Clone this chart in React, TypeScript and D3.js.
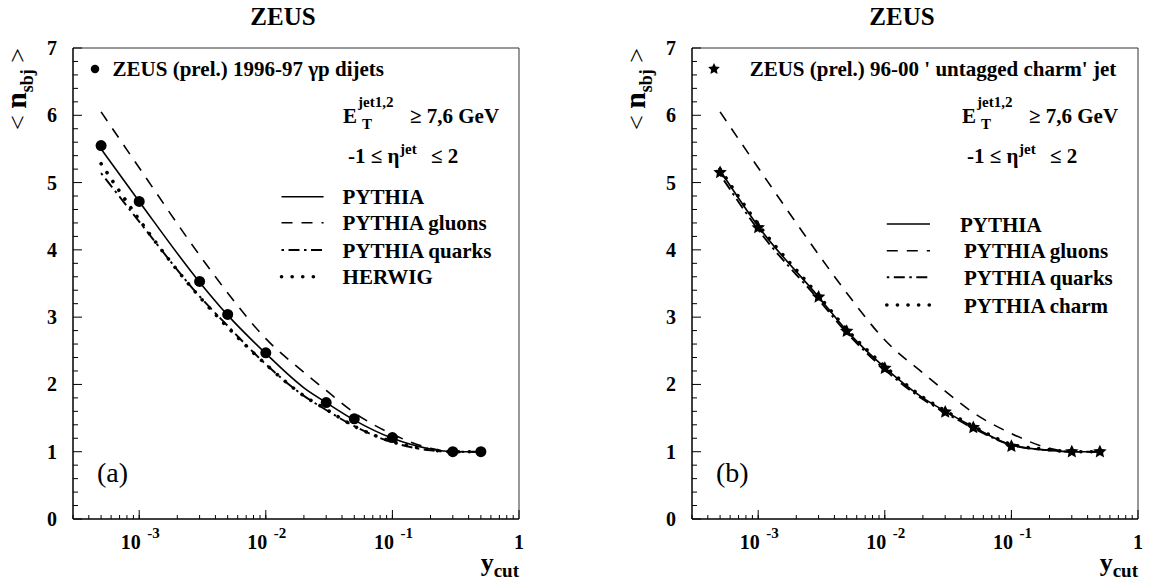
import React, { useEffect, useRef } from 'react'
import * as d3 from 'd3'

// measured points
const ycutData = [5e-4, 1e-3, 3e-3, 5e-3, 1e-2, 3e-2, 5e-2, 0.1, 0.3, 0.5]
const dijetsData = [5.55, 4.72, 3.53, 3.04, 2.47, 1.73, 1.49, 1.21, 1.0, 1.0]
const charmJetData = [5.15, 4.33, 3.30, 2.79, 2.24, 1.59, 1.36, 1.08, 1.0, 1.0]

// model curves
const ycutModel = [5e-4, 1e-3, 3e-3, 5e-3, 1e-2, 2e-2, 3e-2, 5e-2, 0.1, 0.2, 0.3, 0.5]
const pythiaA = [5.5, 4.72, 3.52, 3.03, 2.46, 1.95, 1.73, 1.47, 1.2, 1.04, 1.0, 1.0]
const gluonsA = [6.05, 5.22, 3.92, 3.36, 2.68, 2.18, 1.91, 1.58, 1.26, 1.05, 1.0, 1.0]
const quarksA = [5.14, 4.42, 3.31, 2.87, 2.30, 1.83, 1.62, 1.38, 1.14, 1.02, 1.0, 1.0]
const herwigA = [5.28, 4.45, 3.30, 2.85, 2.30, 1.83, 1.63, 1.38, 1.15, 1.03, 1.0, 1.0]

const pythiaB = [5.18, 4.35, 3.30, 2.80, 2.25, 1.80, 1.60, 1.37, 1.10, 1.02, 1.0, 1.0]
const gluonsB = [6.05, 5.22, 3.93, 3.36, 2.66, 2.17, 1.90, 1.58, 1.27, 1.05, 1.0, 1.0]
const quarksB = [5.12, 4.30, 3.26, 2.77, 2.22, 1.78, 1.58, 1.35, 1.10, 1.02, 1.0, 1.0]
const charmB = [5.20, 4.38, 3.32, 2.82, 2.27, 1.81, 1.61, 1.38, 1.11, 1.03, 1.0, 1.0]

const yTicks = [0, 1, 2, 3, 4, 5, 6, 7]
const xDecades = [1e-3, 1e-2, 1e-1, 1]
const xExponents = ['-3', '-2', '-1', '']

const legendA = ['PYTHIA', 'PYTHIA gluons', 'PYTHIA quarks', 'HERWIG']
const legendB = ['PYTHIA', 'PYTHIA gluons', 'PYTHIA quarks', 'PYTHIA charm']

const FONT = '"Liberation Serif", "Times New Roman", serif'

const styles: any = {
    solid: { dash: null, width: 1.6, cap: 'butt' },
    dashed: { dash: '11,9', width: 1.6, cap: 'butt' },
    dashdot: { dash: '2.5,4.5,11,4.5', width: 1.9, cap: 'butt' },
    dotted: { dash: '0.1,10.5', width: 3.6, cap: 'round' },
}

// fat five-point star like the ROOT marker
const fatStar = {
    draw(context: any, size: number) {
        const r = Math.sqrt(size / 1.6)
        const ri = r * 0.48
        for (let i = 0; i < 10; i++) {
            const a = -Math.PI / 2 + (i * Math.PI) / 5
            const rr = i % 2 === 0 ? r : ri
            const px = rr * Math.cos(a)
            const py = rr * Math.sin(a)
            if (i === 0) context.moveTo(px, py)
            else context.lineTo(px, py)
        }
        context.closePath()
    },
}

const W = 446
const TOP = 48
const BOTTOM = 519

function drawPanel(root: any, p: any) {
    const g = root.append('g').attr('transform', `translate(${p.ox},0)`)

    const x = d3.scaleLog().domain([3e-4, 1]).range([0, W])
    const y = d3.scaleLinear().domain([0, 7]).range([BOTTOM, TOP])

    // frame
    g.append('line').attr('x1', 0).attr('x2', W).attr('y1', TOP).attr('y2', TOP)
        .attr('stroke', '#333').attr('stroke-width', 1)
    g.append('line').attr('x1', W).attr('x2', W).attr('y1', TOP).attr('y2', BOTTOM)
        .attr('stroke', '#333').attr('stroke-width', 1)
    g.append('line').attr('x1', 0).attr('x2', 0).attr('y1', TOP).attr('y2', BOTTOM)
        .attr('stroke', '#000').attr('stroke-width', 1.5)
    g.append('line').attr('x1', 0).attr('x2', W).attr('y1', BOTTOM).attr('y2', BOTTOM)
        .attr('stroke', '#000').attr('stroke-width', 1.5)

    // y ticks
    const yMinor = d3.range(0, 7.001, 0.2)
    g.selectAll('.ymin').data(yMinor).enter().append('line')
        .attr('x1', 0).attr('x2', d => (Math.abs(d - Math.round(d)) < 1e-6 ? 9 : 5))
        .attr('y1', d => y(d)).attr('y2', d => y(d))
        .attr('stroke', '#000').attr('stroke-width', 1)
    g.selectAll('.ylab').data(yTicks).enter().append('text')
        .attr('x', -16).attr('y', d => y(d) + 7)
        .attr('text-anchor', 'end').attr('font-family', FONT).attr('font-weight', 'bold')
        .attr('font-size', 20).text(d => d)

    // x ticks
    const xMinor: number[] = []
    ;[1e-4, 1e-3, 1e-2, 1e-1].forEach(dec => {
        for (let k = 1; k <= 9; k++) {
            const v = dec * k
            if (v >= 3e-4 && v <= 1) xMinor.push(v)
        }
    })
    g.selectAll('.xmin').data(xMinor).enter().append('line')
        .attr('x1', d => x(d)).attr('x2', d => x(d))
        .attr('y1', BOTTOM).attr('y2', BOTTOM - 4)
        .attr('stroke', '#000').attr('stroke-width', 1)
    g.selectAll('.xmaj').data(xDecades).enter().append('line')
        .attr('x1', d => x(d)).attr('x2', d => x(d))
        .attr('y1', BOTTOM).attr('y2', BOTTOM - 9)
        .attr('stroke', '#000').attr('stroke-width', 1)

    xDecades.forEach((d, i) => {
        if (xExponents[i] === '') {
            g.append('text').attr('x', x(d)).attr('y', 549).attr('text-anchor', 'middle')
                .attr('font-family', FONT).attr('font-weight', 'bold').attr('font-size', 20).text('1')
        } else {
            g.append('text').attr('x', x(d) + 1.5).attr('y', 549).attr('text-anchor', 'end')
                .attr('font-family', FONT).attr('font-weight', 'bold').attr('font-size', 20).text('10')
            g.append('text').attr('x', x(d) + 8).attr('y', 538)
                .attr('font-family', FONT).attr('font-weight', 'bold').attr('font-size', 15).text(xExponents[i])
        }
    })

    // axis titles
    const xt = g.append('text').attr('x', W).attr('y', 571).attr('text-anchor', 'end')
        .attr('font-family', FONT).attr('font-weight', 'bold')
    xt.append('tspan').attr('font-size', 26).text('y')
    xt.append('tspan').attr('font-size', 19).attr('dy', 6).text('cut')

    const yt = g.append('text').attr('transform', `translate(-47,89) rotate(-90)`)
        .attr('text-anchor', 'middle').attr('font-family', FONT).attr('font-weight', 'bold')
    yt.append('tspan').attr('font-size', 26).attr('font-weight', 'normal').text('< ')
    yt.append('tspan').attr('font-size', 30).text('n')
    yt.append('tspan').attr('font-size', 18).attr('dy', 7).text('sbj')
    yt.append('tspan').attr('font-size', 26).attr('font-weight', 'normal').attr('dy', -7).text(' >')

    // title
    g.append('text').attr('x', 210).attr('y', 25).attr('text-anchor', 'middle')
        .attr('font-family', FONT).attr('font-weight', 'bold').attr('font-size', 25).text('ZEUS')

    // model curves
    const line = d3.line<number>()
        .x((d, i) => x(ycutModel[i]))
        .y(d => y(d))
        .curve(d3.curveMonotoneX)

    p.curves.forEach((c: any) => {
        const s = styles[c.style]
        g.append('path').attr('d', line(c.values)).attr('fill', 'none')
            .attr('stroke', '#000').attr('stroke-width', s.width)
            .attr('stroke-dasharray', s.dash).attr('stroke-linecap', s.cap)
    })

    // data points
    const sym = p.marker === 'star'
        ? d3.symbol().type(fatStar as any).size(80)
        : d3.symbol().type(d3.symbolCircle).size(95)
    g.selectAll('.pt').data(p.data).enter().append('path')
        .attr('d', sym() as string)
        .attr('transform', (d: number, i: number) => `translate(${x(ycutData[i])},${y(d)})`)
        .attr('fill', '#000')

    // header legend
    const hsym = p.marker === 'star'
        ? d3.symbol().type(fatStar as any).size(60)
        : d3.symbol().type(d3.symbolCircle).size(56)
    g.append('path').attr('d', hsym() as string).attr('transform', `translate(22,69)`).attr('fill', '#000')
    g.append('text').attr('x', p.headerX).attr('y', 76).attr('font-family', FONT)
        .attr('font-weight', 'bold').attr('font-size', 21).text(p.header)

    // cuts
    const e = g.append('text').attr('font-family', FONT).attr('font-weight', 'bold')
    e.append('tspan').attr('x', 270).attr('y', 123).attr('font-size', 21).text('E')
    e.append('tspan').attr('x', 285).attr('y', 107).attr('font-size', 15).text('jet1,2')
    e.append('tspan').attr('x', 289).attr('y', 129).attr('font-size', 15).text('T')
    e.append('tspan').attr('x', 337).attr('y', 123).attr('font-size', 21).text('\u2265 7,6 GeV')

    const eta = g.append('text').attr('font-family', FONT).attr('font-weight', 'bold')
    eta.append('tspan').attr('x', 275).attr('y', 163).attr('font-size', 21).text('-1 \u2264 \u03b7')
    eta.append('tspan').attr('x', 327).attr('y', 154).attr('font-size', 15).text('jet')
    eta.append('tspan').attr('x', 358).attr('y', 163).attr('font-size', 21).text('\u2264 2')

    // model legend
    p.curves.forEach((c: any, i: number) => {
        const s = styles[c.style]
        const ly = p.legendY[i]
        g.append('line').attr('x1', p.legendX[0]).attr('x2', p.legendX[1])
            .attr('y1', ly).attr('y2', ly)
            .attr('stroke', '#000').attr('stroke-width', s.width)
            .attr('stroke-dasharray', s.dash).attr('stroke-linecap', s.cap)
        g.append('text').attr('x', p.legendTextX[i]).attr('y', ly + 7.5)
            .attr('font-family', FONT).attr('font-weight', 'bold').attr('font-size', 21)
            .text(c.label)
    })

    // panel tag
    g.append('text').attr('x', 24).attr('y', 482).attr('font-family', FONT)
        .attr('font-size', 28).text(p.tag)
}

export default function App() {
    const ref = useRef<SVGSVGElement>(null)

    useEffect(() => {
        const svg = d3.select(ref.current)
        svg.selectAll('*').remove()

        drawPanel(svg, {
            ox: 73,
            data: dijetsData,
            marker: 'circle',
            header: 'ZEUS (prel.) 1996-97 \u03b3p dijets',
            headerX: 39.6,
            curves: [
                { values: pythiaA, style: 'solid', label: legendA[0] },
                { values: gluonsA, style: 'dashed', label: legendA[1] },
                { values: quarksA, style: 'dashdot', label: legendA[2] },
                { values: herwigA, style: 'dotted', label: legendA[3] },
            ],
            legendX: [208.5, 250.6],
            legendY: [196.7, 222.7, 250, 276.7],
            legendTextX: [269.6, 269.6, 269.6, 269.6],
            tag: '(a)',
        })

        drawPanel(svg, {
            ox: 692,
            data: charmJetData,
            marker: 'star',
            header: "ZEUS (prel.) 96-00 ' untagged charm' jet",
            headerX: 57.7,
            curves: [
                { values: pythiaB, style: 'solid', label: legendB[0] },
                { values: gluonsB, style: 'dashed', label: legendB[1] },
                { values: quarksB, style: 'dashdot', label: legendB[2] },
                { values: charmB, style: 'dotted', label: legendB[3] },
            ],
            legendX: [194.8, 238],
            legendY: [224, 250.7, 277.3, 305],
            legendTextX: [268, 272, 272, 272],
            tag: '(b)',
        })
    }, [])

    return (
        <svg ref={ref} width={1152} height={583}
            style={{ position: 'absolute', left: 0, top: 0, background: '#fff' }} />
    )
}
